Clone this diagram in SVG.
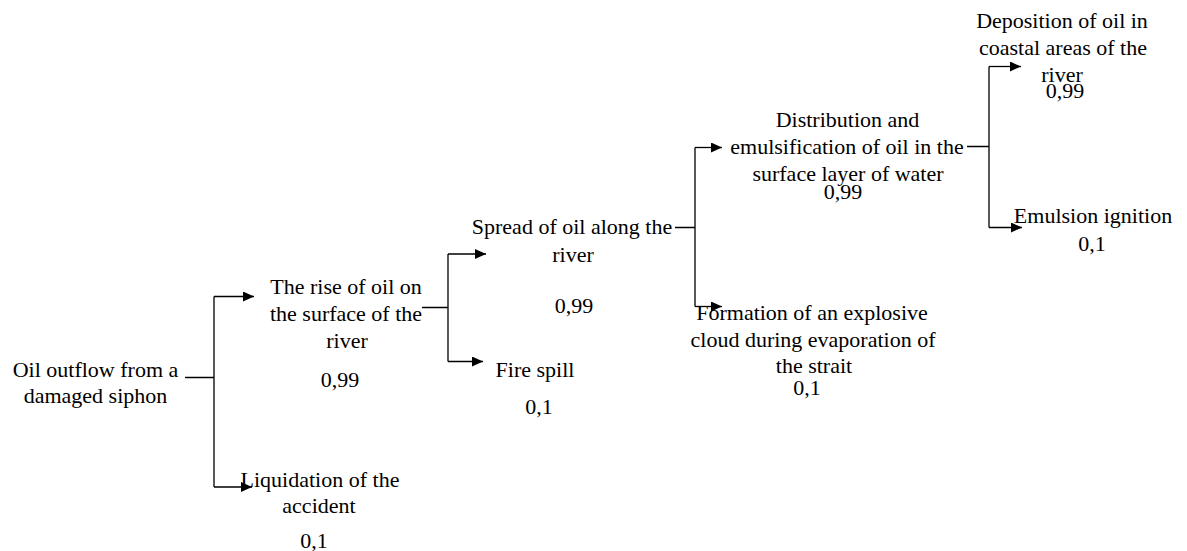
<svg xmlns="http://www.w3.org/2000/svg" width="1187" height="551" viewBox="0 0 1187 551">
<style>
text{font-family:"Liberation Serif","Times New Roman",serif;font-size:22px;fill:#000;text-anchor:middle}
.ln{fill:none;stroke:#000;stroke-width:1.3}
.ar{fill:none;stroke:#000;stroke-width:1.3;marker-end:url(#ah)}
</style>
<defs>
<marker id="ah" markerUnits="userSpaceOnUse" markerWidth="11" markerHeight="10" refX="11" refY="5" orient="auto">
<path d="M0,0 L11,5 L0,10 Z" fill="#000"/>
</marker>
</defs>
<rect width="1187" height="551" fill="#fff"/>
<g id="connectors">
<path class="ln" d="M185,377.5 H214 M214,296.5 V487"/>
<path class="ar" d="M214,296.5 H254"/>
<path class="ar" d="M214,487 H252"/>
<path class="ln" d="M422,307.5 H448 M448,254 V361.5"/>
<path class="ar" d="M448,254 H486"/>
<path class="ar" d="M448,361.5 H483"/>
<path class="ln" d="M675,227.5 H695 M695,147.5 V306.5"/>
<path class="ar" d="M695,147.5 H722"/>
<path class="ar" d="M695,306.5 H722"/>
<path class="ln" d="M967,146.5 H989 M989,66.5 V227.5"/>
<path class="ar" d="M989,66.5 H1021"/>
<path class="ar" d="M989,227.5 H1022"/>
</g>
<g id="n1">
<text x="95.5" y="377">Oil outflow from a</text>
<text x="95.5" y="403">damaged siphon</text>
</g>
<g id="n2">
<text x="346" y="294">The rise of oil on</text>
<text x="346" y="321">the surface of the</text>
<text x="347" y="348">river</text>
<text x="340" y="387">0,99</text>
</g>
<g id="n3">
<text x="320" y="487">Liquidation of the</text>
<text x="319" y="513">accident</text>
<text x="314" y="548">0,1</text>
</g>
<g id="n4">
<text x="572" y="234">Spread of oil along the</text>
<text x="573" y="262">river</text>
<text x="574" y="313">0,99</text>
</g>
<g id="n5">
<text x="535" y="377">Fire spill</text>
<text x="539" y="414">0,1</text>
</g>
<g id="n6">
<text x="847.5" y="127">Distribution and</text>
<text x="847" y="154">emulsification of oil in the</text>
<text x="848" y="181">surface layer of water</text>
<text x="843" y="199">0,99</text>
</g>
<g id="n7">
<text x="812" y="320">Formation of an explosive</text>
<text x="813" y="347">cloud during evaporation of</text>
<text x="814" y="373">the strait</text>
<text x="807" y="395">0,1</text>
</g>
<g id="n8">
<text x="1062" y="28">Deposition of oil in</text>
<text x="1063" y="55">coastal areas of the</text>
<text x="1062" y="82">river</text>
<text x="1065" y="98">0,99</text>
</g>
<g id="n9">
<text x="1093" y="223">Emulsion ignition</text>
<text x="1092" y="251">0,1</text>
</g>
</svg>
